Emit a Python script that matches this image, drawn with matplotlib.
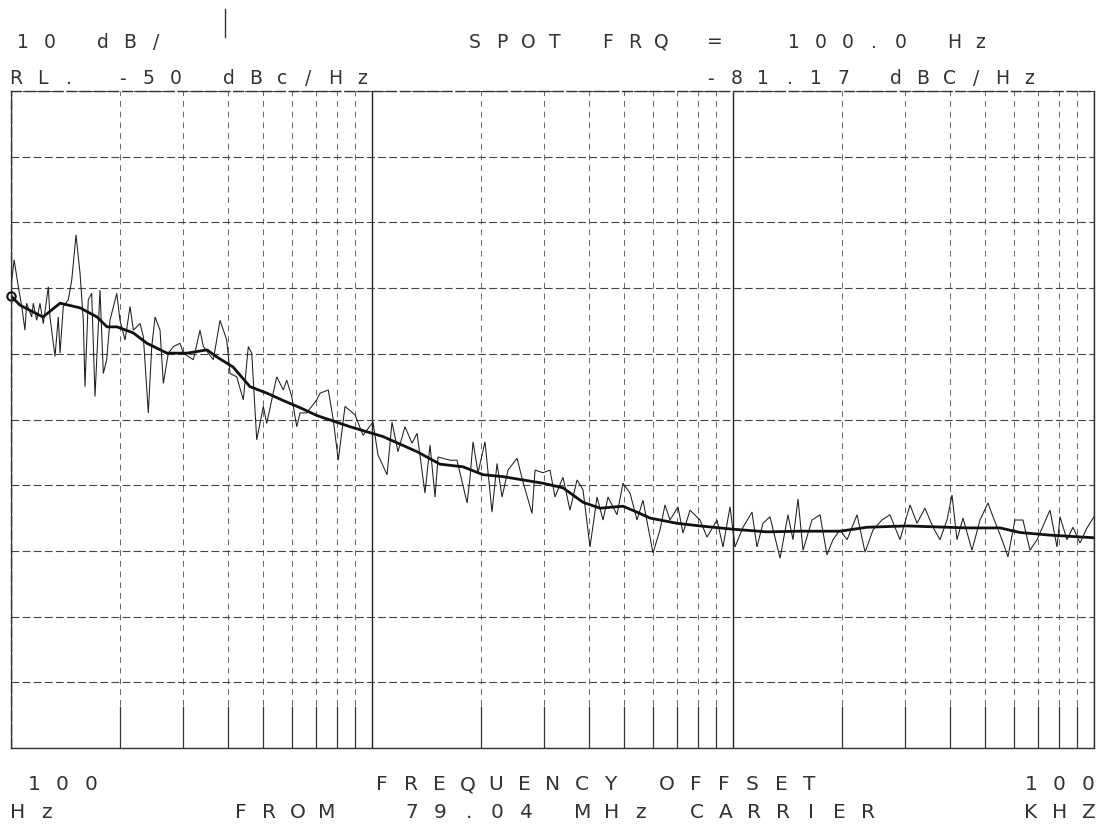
import numpy as np
import matplotlib
matplotlib.use("Agg")
import matplotlib.pyplot as plt
from matplotlib.lines import Line2D
from matplotlib.ticker import LogLocator, MultipleLocator, NullFormatter

# raw (unsmoothed) phase noise trace, Hz / dBc/Hz
raw_freq = [100, 102, 104.8, 107.1, 109.3, 110.5, 114.1, 115.3, 117.8, 120.3,
            122.9, 126.9, 128.2, 132.4, 135.2, 136.7, 139.6, 144.1, 147.3, 151.4,
            155.3, 158.6, 160.3, 163.7, 167.3, 170.9, 176.4, 180.2, 184.1, 188,
            196.3, 200.4, 207, 213.7, 218.3, 227.8, 232.6, 240.1, 245.4, 250.6,
            258.7, 264.2, 272.8, 281.7, 293.9, 300.2, 319.9, 333.9, 341, 363.5,
            379.3, 395.9, 404.3, 421.9, 440.1, 454.3, 464.4, 479.4, 500, 510.9,
            544.5, 568, 580.4, 599.3, 618.7, 631.9, 659.4, 703, 717.8, 756.8,
            781.3, 806.5, 841.8, 897.5, 944.3, 1006, 1039, 1101, 1136, 1180,
            1234, 1291, 1333, 1402, 1448, 1495, 1524, 1645, 1720, 1834,
            1869, 1905, 1967, 2056, 2150, 2220, 2292, 2381, 2522, 2620,
            2775, 2829, 2976, 3112, 3213, 3381, 3535, 3698, 3841, 4017,
            4201, 4365, 4506, 4771, 4957, 5185, 5421, 5632, 6003, 6278,
            6481, 6691, 7041, 7269, 7601, 8102, 8472, 9031, 9382, 9811,
            10130, 10660, 11290, 11650, 12110, 12660, 13500, 14200, 14660, 15140,
            15630, 16550, 17420, 18210, 18920, 19790, 20700, 22060, 23220, 24430,
            25860, 27210, 28100, 29010, 30930, 32340, 34020, 35810, 37450, 39150,
            40430, 41730, 43360, 45920, 48330, 50860, 52500, 55620, 57770, 60400,
            63570, 66470, 69530, 75520, 78980, 80500, 84180, 87450, 91460, 95630,
            100000]
raw_dbc = [-79.8, -75.7, -79.8, -82.8, -86.4, -82.3, -84.4, -82.3, -84.9, -82.3,
           -85.4, -79.8, -84.4, -90.4, -84.4, -89.9, -82.8, -81.8, -78.8, -71.9,
           -77.7, -84.9, -95, -81.8, -80.8, -96.5, -80.3, -93, -90.9, -84.9,
           -80.8, -84.9, -87.9, -82.8, -86.4, -85.4, -87.4, -99, -88.9, -84.4,
           -86.4, -94.5, -89.9, -88.9, -88.4, -89.9, -90.9, -86.4, -88.9, -90.9,
           -84.9, -87.9, -93, -93.5, -97, -88.9, -89.9, -103.1, -98, -100.6,
           -93.5, -95.5, -94, -96.5, -101.1, -99, -99, -97, -96, -95.5,
           -100.1, -106.2, -98, -99.3, -102.4, -100.4, -105.4, -108.4, -100.4, -104.9,
           -101.1, -103.6, -102.1, -111.2, -103.9, -111.8, -105.7, -106.2, -106.2, -112.7,
           -108.8, -103.4, -108.1, -103.4, -114.1, -106.7, -111.8, -107.7, -105.9, -109.5,
           -114.3, -107.7, -108.1, -107.7, -111.8, -108.8, -113.8, -109.2, -110.7, -119.4,
           -111.8, -115.3, -111.8, -114.5, -109.7, -111.2, -115.3, -112.3, -120.3, -116.8,
           -113, -115.3, -113.3, -117.3, -113.8, -115.3, -117.9, -115.3, -119.4, -113.3,
           -119.4, -116.4, -114.1, -119.4, -115.8, -114.8, -121.1, -114.5, -118.3, -112.1,
           -119.9, -115.3, -114.5, -120.6, -118.3, -116.8, -118.3, -114.5, -120.2, -116.8,
           -115.3, -114.5, -116.4, -118.3, -113, -115.8, -113.5, -116.4, -118.3, -115.3,
           -111.5, -118.3, -115, -119.9, -115.3, -112.7, -114.8, -118.3, -120.9, -115.3,
           -115.3, -119.9, -118.3, -113.8, -119.4, -114.8, -118.3, -116.4, -118.8, -116.5,
           -114.8]

# smoothed trace
sm_freq = [100, 105.9, 122.6, 136.7, 155.3, 173.1, 184.5, 196.6, 217.8, 238.1,
           270.5, 307.3, 349.1, 372.1, 412.1, 459.2, 512, 566.9, 631.9, 704.2,
           869.5, 1073, 1333, 1543, 1787, 2030, 2307, 2620, 2976, 3381,
           3841, 4281, 4957, 5421, 5889, 6997, 8102, 10000, 12420, 15330,
           19790, 23510, 30340, 44480, 54910, 62370, 75520, 100000]
sm_dbc = [-81.2, -82.6, -84.4, -82.3, -83, -84.4, -85.9, -85.9, -86.8, -88.4,
          -89.9, -89.9, -89.4, -90.5, -92, -95, -96, -97.1, -98.2, -99.4,
          -101.1, -102.6, -104.9, -106.8, -107.2, -108.4, -108.7, -109.2, -109.7, -110.4,
          -112.6, -113.5, -113.2, -114.1, -115, -115.8, -116.2, -116.7, -117.1, -117,
          -117, -116.4, -116.2, -116.5, -116.5, -117.2, -117.6, -118]

spot_freq = 100.0
spot_dbc = -81.17
ref_level = -50
db_per_div = 10

W, H = 1120, 824
ink = "#333333"

fig = plt.figure(figsize=(W / 100, H / 100), dpi=100)
fig.patch.set_facecolor("white")
ax = fig.add_axes([11 / W, 1 - 748 / H, (1094 - 11) / W, (748 - 91) / H])

ax.set_xscale("log")
ax.set_xlim(100, 1e5)
ax.set_ylim(ref_level - 10 * db_per_div, ref_level)

ax.plot(raw_freq, raw_dbc, color="#1e1e1e", lw=0.75, solid_joinstyle="miter")
ax.plot(sm_freq, sm_dbc, color="#111111", lw=2.0)
ax.plot([spot_freq], [spot_dbc], marker="o", ms=6, mfc="none", mec="#111111",
        mew=1.5, clip_on=False)

ax.yaxis.set_major_locator(MultipleLocator(db_per_div))
ax.xaxis.set_major_locator(LogLocator(base=10))
ax.xaxis.set_minor_locator(LogLocator(base=10, subs=np.arange(2, 10)))
ax.xaxis.set_major_formatter(NullFormatter())
ax.xaxis.set_minor_formatter(NullFormatter())
ax.yaxis.set_major_formatter(NullFormatter())

ax.grid(True, which="major", axis="y", color="#444444", lw=0.8, ls=(0, (7, 3)))
ax.grid(True, which="major", axis="x", color="#222222", lw=1.0, ls="-")
ax.grid(True, which="minor", axis="x", color="#666666", lw=0.7, ls=(0, (6, 5)))
ax.tick_params(axis="y", length=0)
ax.tick_params(axis="x", which="major", length=0)
ax.tick_params(axis="x", which="minor", direction="in", length=30, width=0.9,
               color="#333333", bottom=True, top=False)
for side in ["top", "bottom", "left", "right"]:
    ax.spines[side].set_color("#333333")
    ax.spines[side].set_linewidth(1.0)
ax.spines["top"].set_linestyle((0, (7, 3)))
ax.spines["left"].set_linestyle((0, (7, 3)))


def plotter_text(x0, y, s, pitch, size):
    # fixed character pitch, like the pen plotter
    for i, ch in enumerate(s):
        if ch == " ":
            continue
        xc = x0 + i * pitch + 9
        fig.text(xc / W, 1 - y / H, ch, ha="center", va="center",
                 fontsize=size, color=ink, family="DejaVu Sans")


# header
plotter_text(14, 42, "10 dB/", 26.6, 13.5)
plotter_text(466, 42, "SPOT FRQ =  100.0 Hz", 26.6, 13.5)
plotter_text(7, 79, "RL. -50 dBc/Hz", 26.6, 13.5)
plotter_text(701, 79, "-81.17 dBC/Hz", 26.6, 13.5)

# footer
plotter_text(25, 785, "100", 28.5, 14.5)
plotter_text(373, 785, "FREQUENCY OFFSET", 28.5, 14.5)
plotter_text(1022, 785, "100", 28.5, 14.5)
plotter_text(9, 812, "Hz", 28.5, 14.5)
plotter_text(232, 812, "FROM  79.04 MHz CARRIER", 28.5, 14.5)
plotter_text(1022, 812, "KHZ", 28.5, 14.5)

# stray pen stroke above the header
fig.add_artist(Line2D([225 / W, 225 / W], [1 - 9 / H, 1 - 37 / H],
                      color="#333333", lw=1.0))

fig.savefig("out.png", dpi=100)
